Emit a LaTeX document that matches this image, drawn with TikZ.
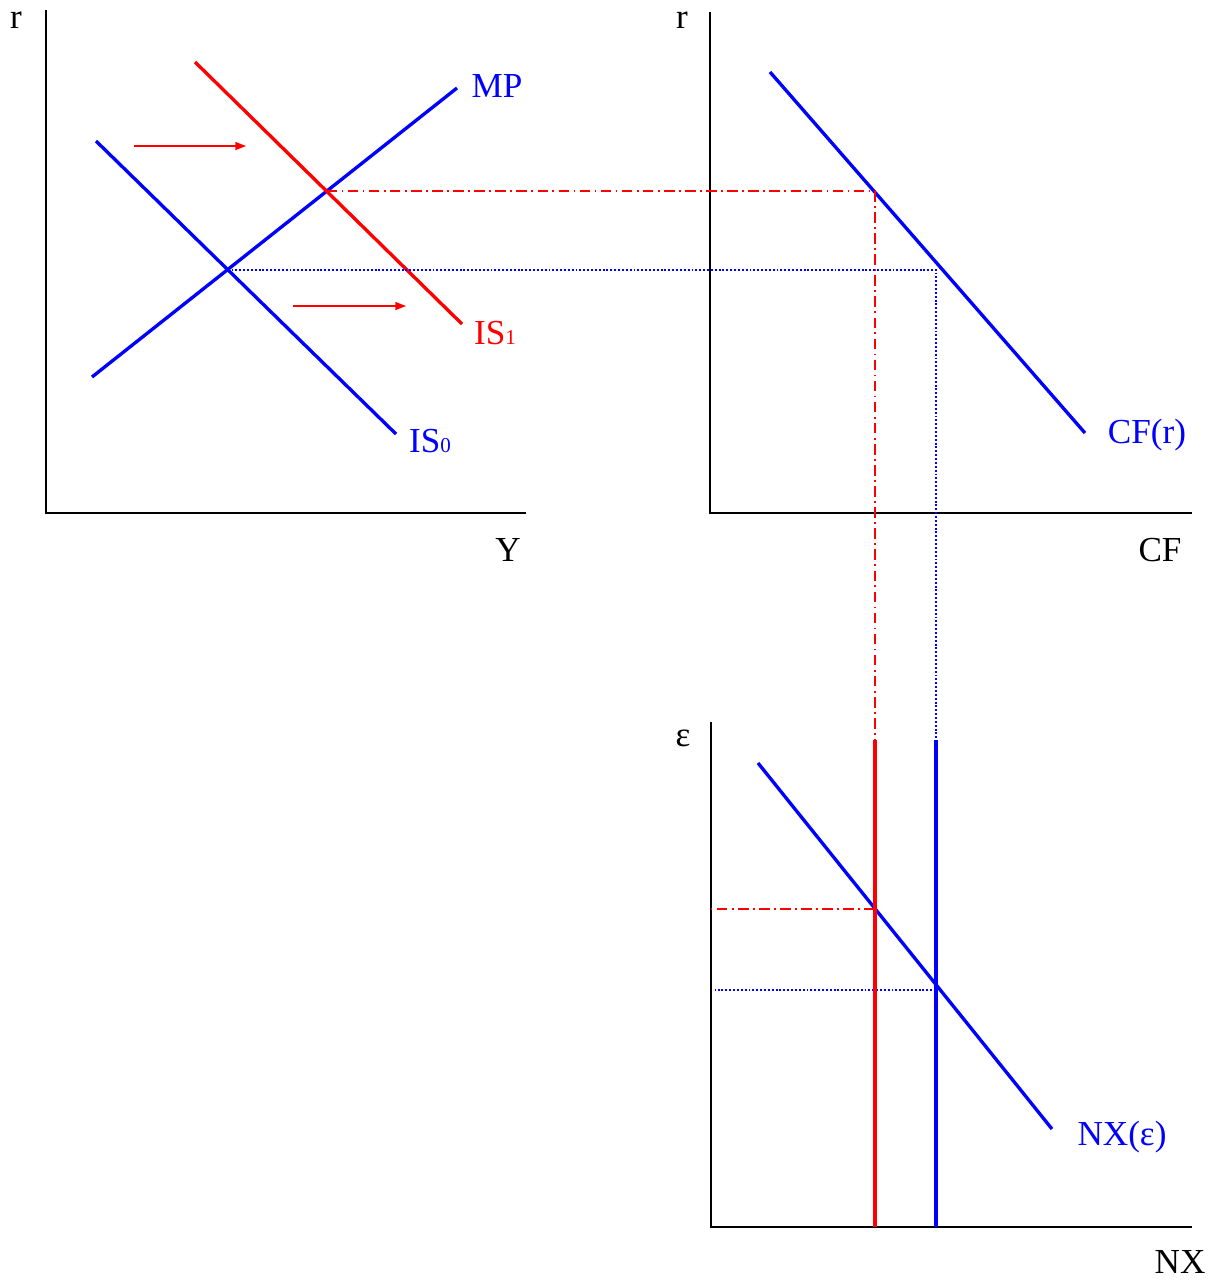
\documentclass[tikz,border=0pt]{standalone}
\usepackage{fontspec}
\setmainfont{Liberation Serif}
\usepackage{tikz}
\usetikzlibrary{arrows.meta, positioning, calc}
\definecolor{ISBlue}{RGB}{0, 0, 255}
\definecolor{ISRed}{RGB}{255, 0, 0}
\newcommand{\lowidx}[1]{{\fontsize{12}{12}\selectfont #1}}

\begin{document}
\begin{tikzpicture}[x=0.02cm, y=-0.02cm,
    axisline/.style={black, line width=1.4pt},
    curve/.style={line width=1.9pt},
    shiftarrow/.style={ISRed, line width=0.8pt, -{Triangle[length=6pt,width=4.5pt]}},
    redguide/.style={ISRed, line width=1pt, dash pattern=on 6pt off 2.5pt on 1pt off 2.5pt},
    blueguide/.style={ISBlue, line width=1.1pt, dash pattern=on 1.1pt off 1.1pt},
    lbl/.style={font=\fontsize{20}{22}\selectfont, inner sep=0pt}]
  \useasboundingbox (0,0) rectangle (1215,1282);

  % IS-MP panel
  \coordinate (yo) at (46,513);
  \coordinate (ytop) at (46,10);
  \coordinate (yend) at (526,513);
  \draw[axisline] (ytop) -- (yo) -- (yend);
  \node[lbl] (rY) at (16,20) {r};
  \node[lbl] (labY) at (508,550) {Y};

  \coordinate (mpA) at (92,377);
  \coordinate (mpB) at (457,88);
  \coordinate (isoA) at (96,141);
  \coordinate (isoB) at (396,434);
  \coordinate (isiA) at (195,62);
  \coordinate (isiB) at (462,324);
  \draw[curve, ISBlue] (mpA) -- (mpB);
  \draw[curve, ISBlue] (isoA) -- (isoB);
  \draw[curve, ISRed] (isiA) -- (isiB);
  \node[lbl, ISBlue] (labMP) at (497,86) {MP};
  \node[lbl, ISBlue] (labISo) at (430,441) {IS\lowidx{0}};
  \node[lbl, ISRed] (labISi) at (495,333) {IS\lowidx{1}};

  \coordinate (arA) at (134,146);
  \coordinate (arB) at (246,146);
  \coordinate (arC) at (293,306);
  \coordinate (arD) at (406,306);
  \draw[shiftarrow] (arA) -- (arB);
  \draw[shiftarrow] (arC) -- (arD);

  \coordinate (eqo) at (intersection of mpA--mpB and isoA--isoB);
  \coordinate (eqi) at (intersection of mpA--mpB and isiA--isiB);

  % CF panel
  \coordinate (co) at (710,513);
  \coordinate (ctop) at (710,12);
  \coordinate (cend) at (1192,513);
  \draw[axisline] (ctop) -- (co) -- (cend);
  \node[lbl] (rC) at (682,20) {r};
  \node[lbl] (labCF) at (1160,550) {CF};
  \coordinate (cfA) at (770,72);
  \coordinate (cfB) at (1085,433);
  \draw[curve, ISBlue] (cfA) -- (cfB);
  \node[lbl, ISBlue] (labCFr) at (1147,435) {CF(r)};

  % NX panel
  \coordinate (no) at (711,1227);
  \coordinate (ntop) at (711,722);
  \coordinate (nend) at (1192,1227);
  \draw[axisline] (ntop) -- (no) -- (nend);
  \node[lbl] (eps) at (683,738) {ε};
  \node[lbl] (labNX) at (1180,1262) {NX};
  \coordinate (nxA) at (758,763);
  \coordinate (nxB) at (1052,1129);
  \draw[curve, ISBlue] (nxA) -- (nxB);
  \node[lbl, ISBlue] (labNXe) at (1122,1137) {NX(ε)};

  % guides
  \coordinate (sfiTop) at (875,740);
  \coordinate (sfoTop) at (936,740);
  \coordinate (sfoDot) at (936,755);
  \coordinate (sfiBot) at (875,1227);
  \coordinate (sfoBot) at (936,1227);
  \coordinate (nxi) at (875,909);
  \coordinate (nxo) at (936,990);
  \draw[redguide] (eqi) -- (eqi -| sfiTop) -- (sfiTop);
  \draw[blueguide] (eqo) -- (eqo -| sfoDot) -- (sfoDot);
  \draw[redguide] (nxi) -- (nxi -| no);
  \draw[blueguide] (nxo) -- ([xshift=2]nxo -| no);
  \draw[curve, ISRed] (sfiTop) -- (sfiBot);
  \draw[curve, ISBlue] (sfoTop) -- (sfoBot);
\end{tikzpicture}
\end{document}
